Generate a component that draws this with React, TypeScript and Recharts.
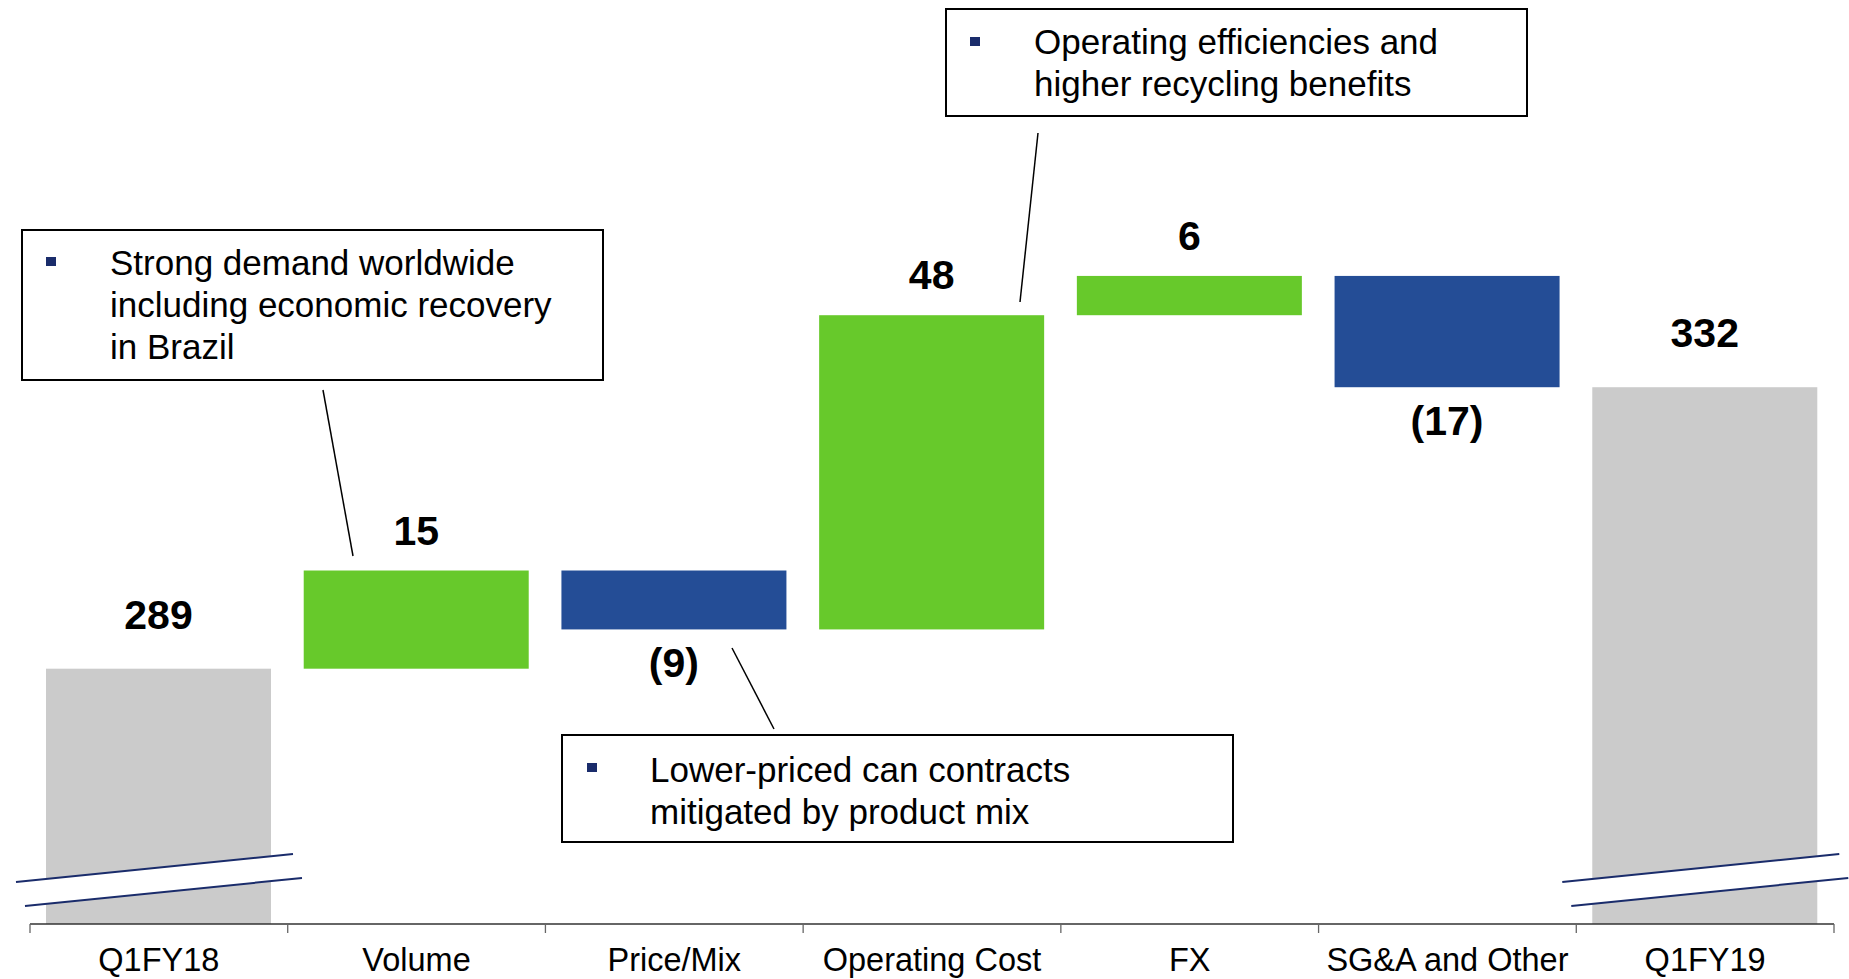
import React from 'react';
import { BarChart, Bar, XAxis, YAxis, Cell, LabelList } from 'recharts';

// ---- data ----
const categories = ['Q1FY18', 'Volume', 'Price/Mix', 'Operating Cost', 'FX', 'SG&A and Other', 'Q1FY19'];
const openingValue = 289;
const changes = [15, -9, 48, 6, -17];
const closingValue = 332;
const axisFloor = 250; // broken axis: bars for totals start here
const axisCeiling = 380;

type Row = { name: string; range: [number, number]; value: number; kind: 'total' | 'up' | 'down' };

const buildRows = (): Row[] => {
  const rows: Row[] = [];
  rows.push({ name: categories[0], range: [axisFloor, openingValue], value: openingValue, kind: 'total' });
  let run = openingValue;
  changes.forEach((c, i) => {
    const next = run + c;
    rows.push({
      name: categories[i + 1],
      range: [Math.min(run, next), Math.max(run, next)],
      value: c,
      kind: c >= 0 ? 'up' : 'down',
    });
    run = next;
  });
  rows.push({ name: categories[6], range: [axisFloor, closingValue], value: closingValue, kind: 'total' });
  return rows;
};
const rows = buildRows();

// ---- layout / style ----
const W = 1849;
const H = 979;
const MARGIN = { top: 73, right: 15, left: 30, bottom: 0 };
const XAXIS_H = 55;
const BAND = (W - MARGIN.left - MARGIN.right) / categories.length;
const FONT = '"Liberation Sans", Arial, Helvetica, sans-serif';
const COLORS = { total: '#CBCBCB', up: '#67C92B', down: '#244D96' };
const NAVY = '#1A2C6B';

const WaterfallShape = (props: any) => {
  const { x, y, width, height, payload } = props;
  const top = Math.min(y, y + height);
  const h = Math.abs(height);
  const fill = COLORS[payload.kind as keyof typeof COLORS];
  if (payload.kind !== 'total') {
    return <rect x={x} y={top} width={width} height={h} fill={fill} />;
  }
  const bottom = top + h;
  const l1 = { x1: x - 30, y1: bottom - 42, x2: x + width + 22, y2: bottom - 70 };
  const l2 = { x1: x - 21, y1: bottom - 18, x2: x + width + 31, y2: bottom - 46 };
  return (
    <g>
      <rect x={x} y={top} width={width} height={h} fill={fill} />
      <polygon
        points={`${l1.x1},${l1.y1} ${l1.x2},${l1.y2} ${l2.x2},${l2.y2} ${l2.x1},${l2.y1}`}
        fill="#ffffff"
      />
      <line {...l1} stroke={NAVY} strokeWidth={2} />
      <line {...l2} stroke={NAVY} strokeWidth={2} />
    </g>
  );
};

const ValueLabel = (props: any) => {
  const { x, y, width, height, index } = props;
  const row = rows[index];
  if (!row) return null;
  const top = Math.min(y, y + height);
  const bottom = top + Math.abs(height);
  const cx = x + width / 2;
  let ty: number;
  let text: string;
  if (row.kind === 'total') {
    ty = top - 40;
    text = String(row.value);
  } else if (row.kind === 'up') {
    ty = top - 26;
    text = String(row.value);
  } else {
    ty = bottom + 48;
    text = `(${Math.abs(row.value)})`;
  }
  return (
    <text x={cx} y={ty} textAnchor="middle" fontFamily={FONT} fontWeight={700} fontSize={41} fill="#000">
      {text}
    </text>
  );
};

const CategoryTick = (props: any) => {
  const { x, y, payload, index } = props;
  const left = x - BAND / 2;
  const right = x + BAND / 2;
  return (
    <g>
      <line x1={left} y1={y} x2={left} y2={y + 9} stroke="#666" strokeWidth={1.3} />
      {index === categories.length - 1 && (
        <line x1={right} y1={y} x2={right} y2={y + 9} stroke="#666" strokeWidth={1.3} />
      )}
      <text x={x} y={y + 47} textAnchor="middle" fontFamily={FONT} fontSize={32.5} fill="#000">
        {payload.value}
      </text>
    </g>
  );
};

// ---- annotations ----
const boxes = [
  {
    x: 22, y: 230, w: 581, h: 150, tx: 110, bx: 46, by: 257,
    lines: ['Strong demand worldwide', 'including economic recovery', 'in Brazil'], base: 275,
  },
  {
    x: 562, y: 735, w: 671, h: 107, tx: 650, bx: 587, by: 763,
    lines: ['Lower-priced can contracts', 'mitigated by product mix'], base: 782,
  },
  {
    x: 946, y: 9, w: 581, h: 107, tx: 1034, bx: 970, by: 37,
    lines: ['Operating efficiencies and', 'higher recycling benefits'], base: 54,
  },
];
const leaders = [
  [323, 390, 353, 556],
  [732, 648, 774, 729],
  [1038, 133, 1020, 302],
];

export default function App() {
  return (
    <div style={{ position: 'absolute', left: 0, top: 0, width: W, height: H, background: '#fff', overflow: 'hidden' }}>
      <BarChart width={W} height={H} data={rows} margin={MARGIN} barSize={225}>
        <XAxis
          dataKey="name"
          height={XAXIS_H}
          axisLine={{ stroke: '#333', strokeWidth: 1.3 }}
          tickLine={false}
          tickSize={0}
          tickMargin={0}
          interval={0}
          tick={<CategoryTick />}
        />
        <YAxis hide type="number" domain={[axisFloor, axisCeiling]} />
        <Bar dataKey="range" isAnimationActive={false} shape={<WaterfallShape />}>
          {rows.map((r, i) => (
            <Cell key={i} fill={COLORS[r.kind]} />
          ))}
          <LabelList dataKey="range" content={<ValueLabel />} />
        </Bar>
      </BarChart>
      <svg
        width={W}
        height={H}
        style={{ position: 'absolute', left: 0, top: 0, pointerEvents: 'none' }}
      >
        {leaders.map(([x1, y1, x2, y2], i) => (
          <line key={i} x1={x1} y1={y1} x2={x2} y2={y2} stroke="#000" strokeWidth={1.5} />
        ))}
        {boxes.map((b, i) => (
          <g key={i}>
            <rect x={b.x} y={b.y} width={b.w} height={b.h} fill="#fff" stroke="#000" strokeWidth={2} />
            <rect x={b.bx} y={b.by} width={10} height={9} fill={NAVY} />
            {b.lines.map((t, j) => (
              <text key={j} x={b.tx} y={b.base + j * 42} fontFamily={FONT} fontSize={35} fill="#000">
                {t}
              </text>
            ))}
          </g>
        ))}
      </svg>
    </div>
  );
}
